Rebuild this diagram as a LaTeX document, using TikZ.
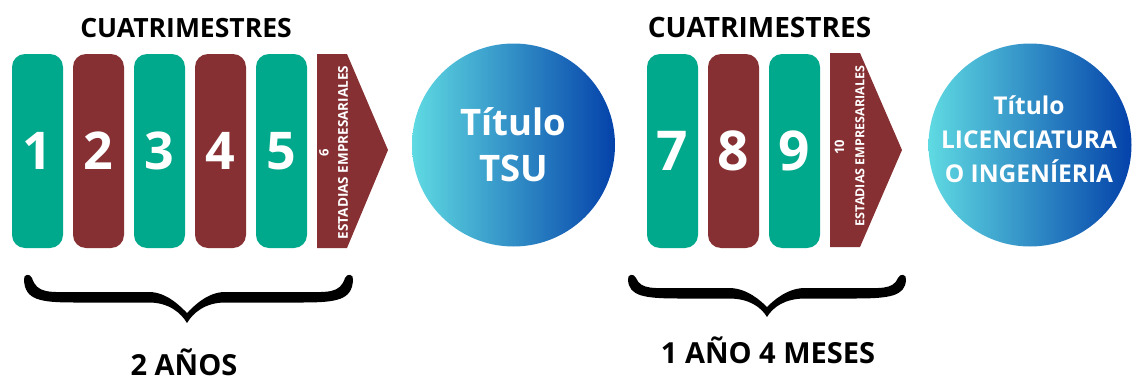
\documentclass[tikz,border=0pt]{standalone}
\usepackage{fontspec}
\setmainfont{Open Sans}
\definecolor{tgreen}{RGB}{0,169,139}
\definecolor{tmaroon}{RGB}{135,48,51}
\definecolor{gradL}{RGB}{95,218,226}
\definecolor{gradR}{RGB}{4,66,170}
\tikzset{
 sembox/.style={rectangle, rounded corners=13pt, minimum width=51pt, minimum height=194pt, inner sep=0pt, text=white, font=\fontsize{52}{52}\selectfont\bfseries},
 greenbox/.style={sembox, fill=tgreen},
 redbox/.style={sembox, fill=tmaroon},
 titlecirc/.style={circle, minimum size=203pt, inner sep=0pt, left color=gradL, right color=gradR, text=white, align=center},
 heading/.style={anchor=base, inner sep=0pt, font=\fontsize{26.5}{26.5}\selectfont\bfseries},
 arrowlbl/.style={rotate=90, text=white, inner sep=0pt, font=\fontsize{13.5}{13.5}\selectfont\bfseries},
 arrownum/.style={rotate=90, text=white, inner sep=0pt, font=\fontsize{13}{13}\selectfont\bfseries},
 stadia/.style={fill=tmaroon},
}
% #1 xL, #2 xM, #3 xR, #4 bar centre y, #5 tip y
\newcommand\mybrace[5]{%
\fill ({#1-1},280)
 .. controls ({#1},{#4+3}) and ({#1+15},{#4+5.5}) .. ({#1+50},{#4+5.5})
 -- ({#2-38},{#4+5.5})
 .. controls ({#2-18},{#4+5.5}) and ({#2-6},{#5-10}) .. (#2,#5)
 .. controls ({#2+6},{#5-10}) and ({#2+18},{#4+5.5}) .. ({#2+38},{#4+5.5})
 -- ({#3-50},{#4+5.5})
 .. controls ({#3-15},{#4+5.5}) and (#3,{#4+3}) .. ({#3+1},280)
 .. controls ({#3+2},274) and ({#3-5},273) .. ({#3-7},278)
 .. controls ({#3-12},{#4-3}) and ({#3-25},{#4-5}) .. ({#3-50},{#4-5})
 -- ({#2+38},{#4-5})
 .. controls ({#2+20},{#4-5}) and ({#2+6},{#5-16}) .. (#2,{#5-10})
 .. controls ({#2-6},{#5-16}) and ({#2-20},{#4-5}) .. ({#2-38},{#4-5})
 -- ({#1+50},{#4-5})
 .. controls ({#1+25},{#4-5}) and ({#1+12},{#4-3}) .. ({#1+7},278)
 .. controls ({#1+5},273) and ({#1-2},274) .. ({#1-1},280) -- cycle;}
\begin{document}
\begin{tikzpicture}[x=1pt,y=-1pt]
\useasboundingbox (0,0) rectangle (1136,383);
% left group
\node[heading] (h1) at (186,37) {CUATRIMESTRES};
\node[greenbox] (c1) at (37.5,151) {1};
\node[redbox]   (c2) at (98.5,151) {2};
\node[greenbox] (c3) at (159.5,151) {3};
\node[redbox]   (c4) at (220.5,151) {4};
\node[greenbox] (c5) at (281.5,151) {5};
\fill[stadia] (317,54) -- (347,54) -- (388,150) -- (347,248) -- (317,248) -- cycle;
\node[arrownum] (n6) at (324,152.5) {6};
\node[arrowlbl] (e6) at (343,152.5) {ESTADIAS EMPRESARIALES};
\node[titlecirc, font=\fontsize{36.5}{46}\selectfont\bfseries] (tsu) at (513.5,145) {Título\\TSU};
\mybrace{25}{187}{352}{297}{323}
\node[heading, font=\fontsize{29}{29}\selectfont\bfseries] (y1) at (184,375) {2 AÑOS};
% right group
\node[heading, font=\fontsize{28}{28}\selectfont\bfseries] (h2) at (759.5,37) {CUATRIMESTRES};
\node[greenbox, font=\fontsize{55}{55}\selectfont\bfseries] (c7) at (672.5,151) {7};
\node[redbox, font=\fontsize{55}{55}\selectfont\bfseries]   (c8) at (733.5,151) {8};
\node[greenbox, font=\fontsize{55}{55}\selectfont\bfseries] (c9) at (794.5,151) {9};
\fill[stadia] (830,53) -- (860,53) -- (902,150) -- (860,247) -- (830,247) -- cycle;
\node[arrownum] (n10) at (839.5,147.5) {10};
\node[arrowlbl, font=\fontsize{12.5}{12.5}\selectfont\bfseries] (e10) at (860,146) {ESTADIAS EMPRESARIALES};
\node[titlecirc] (lic) at (1030,145) {};
\node[text=white, align=center, inner sep=0pt, font=\fontsize{24.5}{34}\selectfont\bfseries] (lict) at (1029,139) {Título\\LICENCIATURA\\O INGENÍERIA};
\mybrace{629}{767}{905}{293}{317}
\node[heading, font=\fontsize{29}{29}\selectfont\bfseries] (y2) at (768,363) {1 AÑO 4 MESES};
\end{tikzpicture}
\end{document}
